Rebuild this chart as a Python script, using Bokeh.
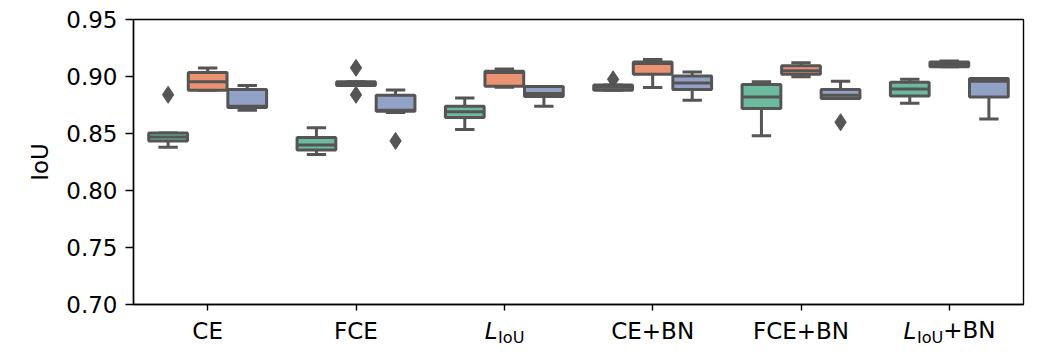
import json
from bokeh.plotting import figure
from bokeh.models import (FixedTicker, PrintfTickFormatter, Range1d, LinearAxis,
                          CustomJSTickFormatter)
from bokeh.embed import file_html
from bokeh.resources import INLINE

# ---------------- data ----------------
categories = ["CE", "FCE", "L_IoU", "CE+BN", "FCE+BN", "L_IoU+BN"]
series = ["Model 1", "Model 2", "Model 3"]
colors = ["#6dbb9f", "#ea9271", "#92a2c7"]

# per series: lists over categories
whislo = {
    "Model 1": [0.838, 0.8316, 0.8535, 0.888, 0.848, 0.8766],
    "Model 2": [0.888, 0.892, 0.8905, 0.8903, 0.8997, 0.9085],
    "Model 3": [0.8704, 0.8684, 0.874, 0.8792, 0.8806, 0.8628],
}
q1 = {
    "Model 1": [0.8435, 0.8355, 0.864, 0.888, 0.872, 0.883],
    "Model 2": [0.888, 0.892, 0.8915, 0.902, 0.902, 0.9085],
    "Model 3": [0.8728, 0.8695, 0.8825, 0.8886, 0.8806, 0.8821],
}
median = {
    "Model 1": [0.847, 0.840, 0.869, 0.8905, 0.882, 0.889],
    "Model 2": [0.8955, 0.8935, 0.9035, 0.9115, 0.905, 0.9105],
    "Model 3": [0.874, 0.8705, 0.885, 0.8944, 0.8836, 0.8959],
}
q3 = {
    "Model 1": [0.8505, 0.8465, 0.874, 0.8925, 0.893, 0.895],
    "Model 2": [0.9035, 0.8955, 0.9045, 0.9128, 0.9095, 0.9128],
    "Model 3": [0.8886, 0.8836, 0.8912, 0.9005, 0.8886, 0.8982],
}
whishi = {
    "Model 1": [0.8505, 0.855, 0.8812, 0.8925, 0.8953, 0.8976],
    "Model 2": [0.9075, 0.8955, 0.9065, 0.915, 0.912, 0.9135],
    "Model 3": [0.892, 0.8882, 0.8912, 0.904, 0.8959, 0.8982],
}
outliers = {
    "Model 1": [[0.884], [], [], [0.8975], [], []],
    "Model 2": [[], [0.9076, 0.8839], [], [], [], []],
    "Model 3": [[], [0.8435], [], [], [0.8599], []],
}
y_ticks = [0.70, 0.75, 0.80, 0.85, 0.90, 0.95]

# ---------------- layout ----------------
W, H = 1042, 349
BL, BR, BT, BB = 133, 19, 19, 45
EDGE = "#555555"
FONT = "DejaVu Sans"
FSZ = 23
FS = f"{FSZ}px"
SUBSZ = round(FSZ * 0.7, 1)
LW = 3
TICK_OUT = 6
STANDOFF = 7
PXU = (W - BL - BR) / len(categories)   # pixels per category
# standoffs of the stacked label rows (negative values pull a row back up
# onto the row of the main tick labels)
ROW_REST, ROW_L, ROW_SUB = -30, -29, -19

p = figure(width=W, height=H, output_backend="svg", toolbar_location=None,
           x_range=Range1d(-0.5, len(categories) - 0.5), y_range=Range1d(0.70, 0.95))
p.min_border_left, p.min_border_right = BL, BR
p.min_border_top, p.min_border_bottom = BT, BB
p.xgrid.visible = False
p.ygrid.visible = False
p.outline_line_color = "black"
p.outline_line_width = 1.4
p.background_fill_color = "white"
p.border_fill_color = "white"

nh = len(series)
group_w = 0.8
hue_w = group_w / nh
box_w = hue_w * 0.98

for h, s in enumerate(series):
    off = -group_w / 2 + hue_w * (h + 0.5)
    xs = [i + off for i in range(len(categories))]
    p.segment(x0=xs, y0=q3[s], x1=xs, y1=whishi[s], line_color=EDGE, line_width=LW)
    p.segment(x0=xs, y0=q1[s], x1=xs, y1=whislo[s], line_color=EDGE, line_width=LW)
    cx0 = [x - box_w / 4 for x in xs]
    cx1 = [x + box_w / 4 for x in xs]
    p.segment(x0=cx0, y0=whishi[s], x1=cx1, y1=whishi[s], line_color=EDGE, line_width=LW)
    p.segment(x0=cx0, y0=whislo[s], x1=cx1, y1=whislo[s], line_color=EDGE, line_width=LW)
    p.vbar(x=xs, width=box_w, bottom=q1[s], top=q3[s], fill_color=colors[h],
           line_color=EDGE, line_width=LW)
    mx0 = [x - box_w / 2 for x in xs]
    mx1 = [x + box_w / 2 for x in xs]
    p.segment(x0=mx0, y0=median[s], x1=mx1, y1=median[s], line_color=EDGE, line_width=LW)
    ox, oy = [], []
    for i, vals in enumerate(outliers[s]):
        for v in vals:
            ox.append(xs[i])
            oy.append(v)
    if ox:
        p.scatter(x=ox, y=oy, marker="diamond", size=17, fill_color=EDGE,
                  line_color=EDGE, line_width=1)


def style_axis(ax, size=FS, font_style="normal"):
    ax.major_label_text_font = FONT
    ax.major_label_text_font_size = size
    ax.major_label_text_font_style = font_style
    ax.major_label_text_color = "black"
    ax.minor_tick_line_color = None


# y axis
ya = p.yaxis[0]
style_axis(ya)
ya.axis_line_color = "black"
ya.axis_line_width = 1.4
ya.major_tick_line_color = "black"
ya.major_tick_line_width = 1.4
ya.major_tick_in = 0
ya.major_tick_out = 8
ya.ticker = FixedTicker(ticks=y_ticks)
ya.formatter = PrintfTickFormatter(format="%.2f")
ya.major_label_standoff = 8
ya.axis_label = "IoU"
ya.axis_label_text_font = FONT
ya.axis_label_text_font_size = FS
ya.axis_label_text_font_style = "normal"
ya.axis_label_text_color = "black"
ya.axis_label_standoff = 10

# main x axis: ticks + plain labels
xa = p.xaxis[0]
style_axis(xa)
xa.axis_line_color = "black"
xa.axis_line_width = 1.4
xa.major_tick_line_color = "black"
xa.major_tick_line_width = 1.4
xa.major_tick_in = 0
xa.major_tick_out = TICK_OUT
xa.major_label_standoff = STANDOFF
xa.ticker = FixedTicker(ticks=list(range(len(categories))))
xa.major_label_overrides = {i: ("" if c.startswith("L_") else c)
                            for i, c in enumerate(categories)}

# composite labels "L_IoU..." : italic L, subscript IoU, optional rest
L_W = 0.557 * FSZ + 1
SUB_W = (0.295 + 0.612 + 0.732) * SUBSZ
REST_W = (0.838 + 0.686 + 0.748) * FSZ
pos_L, pos_sub, pos_rest, rest_text = [], [], [], ""
for i, c in enumerate(categories):
    if not c.startswith("L_"):
        continue
    rest = c[len("L_IoU"):]
    total = L_W + SUB_W + (REST_W if rest else 0.0)
    start = -total / 2
    pos_L.append(i + (start + L_W / 2) / PXU)
    pos_sub.append(i + (start + L_W + SUB_W / 2) / PXU)
    if rest:
        pos_rest.append(i + (start + L_W + SUB_W + REST_W / 2) / PXU)
        rest_text = rest


def text_axis(ticks, text, size, font_style, standoff):
    ax = LinearAxis(ticker=FixedTicker(ticks=ticks),
                    formatter=CustomJSTickFormatter(code=f"return {json.dumps(text)};"))
    style_axis(ax, size, font_style)
    ax.axis_line_color = None
    ax.major_tick_line_color = None
    ax.major_tick_in = 0
    ax.major_tick_out = 0
    ax.major_label_standoff = standoff
    p.add_layout(ax, "below")


text_axis(pos_rest, rest_text, FS, "normal", ROW_REST)
text_axis(pos_L, "L", FS, "italic", ROW_L)
text_axis(pos_sub, "IoU", f"{SUBSZ}px", "normal", ROW_SUB)

open("out.html", "w").write(file_html(p, INLINE))
